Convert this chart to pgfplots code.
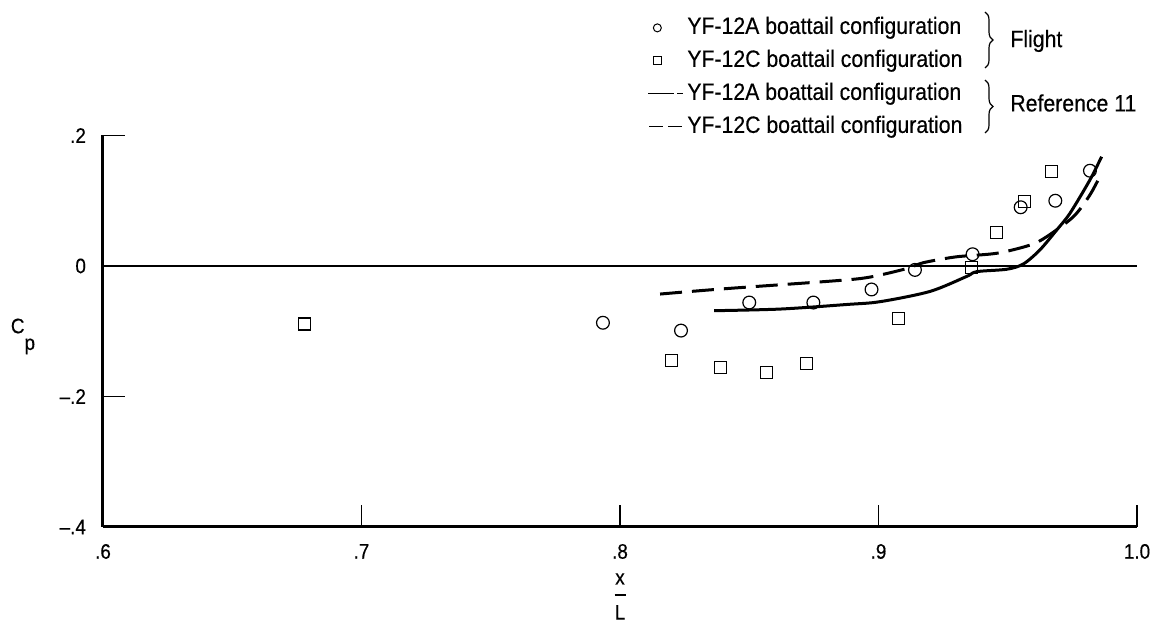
\documentclass[border=0pt]{standalone}
\usepackage{fontspec}
\setmainfont{Liberation Sans}[FakeStretch=0.9, FakeBold=0.4]
\usepackage{pgfplots}
\pgfplotsset{compat=1.18}
\usetikzlibrary{decorations.pathreplacing}
\newcommand{\tickfont}{\fontsize{10.5}{12.6}\selectfont}
\newcommand{\lgfont}{\fontsize{11.8}{14}\selectfont}
\begin{document}
\begin{tikzpicture}
\begin{axis}[
  at={(0pt,0pt)}, anchor=south west,
  scale only axis, width=517pt, height=195.75pt,
  xmin=0.6, xmax=1.0, ymin=-0.4, ymax=0.2,
  axis x line=bottom, axis y line=left,
  axis line style={-, line width=1.5pt},
  xtick={0.6,0.7,0.8,0.9,1.0}, xticklabels={.6,.7,.8,.9,1.0},
  ytick={-0.4,-0.2,0,0.2}, yticklabels={--.4,--.2,0,.2},
  xtick align=inside, ytick align=inside,
  major tick length=11pt,
  tick style={line width=0.6pt, black},
  tick label style={font=\tickfont},
  yticklabel style={xshift=-5pt},
  xticklabel style={yshift=-5pt},
  /pgf/number format/assume math mode=true,
  xlabel={\begin{tabular}{@{}c@{}}x\\[-6.9pt]\rule{5.5pt}{0.8pt}\\[-0.75pt]L\end{tabular}},
  every axis x label/.style={at={(axis description cs:0.5,0)}, anchor=center, yshift=-35pt, font=\tickfont},
  ylabel={C\raisebox{-8.3pt}{p}},
  every axis y label/.style={at={(axis description cs:-0.0774,0.4868)}, anchor=center, font=\tickfont},
  clip=false,
  legend cell align=left,
  legend style={draw=none, fill=none, at={(axis description cs:0.5251,1.304)}, anchor=north west,
    inner sep=0pt, row sep=5.5pt, column sep=0pt, font=\lgfont,
    nodes={inner sep=0pt, text height=8.5pt, text depth=2.5pt}},
]
% zero reference line
\addplot[black, line width=0.8pt, forget plot] coordinates {(0.6,0) (1.0,0)};
% Flight, YF-12A (circles)
\addplot[only marks, mark=o, mark size=3.2pt, mark options={line width=0.6pt, black, fill=white}, forget plot] coordinates {
(0.7934,-0.087) (0.8236,-0.099) (0.850,-0.056) (0.8748,-0.056) (0.8973,-0.036)
(0.9141,-0.006) (0.9364,0.018) (0.955,0.090) (0.9684,0.100) (0.9818,0.146)
};
% Reference 11, YF-12A (solid)
\addplot[black, line width=1.5pt, smooth, tension=0.5, forget plot] coordinates {
(0.8364,-0.0685) (0.862,-0.066) (0.8877,-0.059) (0.9006,-0.0547) (0.9199,-0.039)
(0.9341,-0.016) (0.938,-0.0087) (0.9496,-0.005) (0.956,0.003) (0.9624,0.0245)
(0.9689,0.055) (0.9741,0.081) (0.9818,0.132) (0.9863,0.1675)
};
% Reference 11, YF-12C (dashed)
\addplot[black, line width=1.5pt, dash pattern=on 11pt off 5pt, smooth, tension=0.5, forget plot] coordinates {
(0.8155,-0.043) (0.84,-0.035) (0.8838,-0.0225) (0.8967,-0.017) (0.9109,-0.004)
(0.9173,0.005) (0.930,0.014) (0.9457,0.0195) (0.9586,0.032) (0.9651,0.045)
(0.9754,0.0756) (0.9818,0.109) (0.9863,0.1425)
};
% Flight, YF-12C (squares)
\addplot[only marks, mark=square, mark size=3pt, mark options={line width=0.6pt, black, fill=white}, forget plot] coordinates {
(0.6778,-0.089) (0.820,-0.145) (0.839,-0.156) (0.8567,-0.163) (0.8722,-0.149)
(0.9077,-0.081) (0.936,-0.002) (0.9457,0.051) (0.9564,0.0985) (0.967,0.1445)
};
% legend
\addlegendimage{legend image code/.code={\path[draw=none] (0pt,0pt) -- (20.5pt,0pt); \draw[black,solid,line width=0.5pt] (5.5pt,0pt) circle (2pt);}}
\addlegendentry{YF-12A boattail configuration}
\addlegendimage{legend image code/.code={\path[draw=none] (0pt,0pt) -- (20.5pt,0pt); \draw[black,solid,line width=0.5pt] (3.5pt,-2pt) rectangle (7.5pt,2pt);}}
\addlegendentry{YF-12C boattail configuration}
\addlegendimage{legend image code/.code={\path[draw=none] (0pt,0pt) -- (20.5pt,0pt); \draw[black,solid,line width=0.6pt] (1pt,0pt) -- (14pt,0pt); \draw[black,solid,line width=0.6pt] (15.5pt,0pt) -- (18.5pt,0pt);}}
\addlegendentry{YF-12A boattail configuration}
\addlegendimage{legend image code/.code={\path[draw=none] (0pt,0pt) -- (20.5pt,0pt); \draw[black,solid,line width=0.6pt] (1.5pt,0pt) -- (8.5pt,0pt); \draw[black,solid,line width=0.6pt] (11pt,0pt) -- (18pt,0pt);}}
\addlegendentry{YF-12C boattail configuration}
\end{axis}
\draw[black, line width=0.6pt, decorate, decoration={brace, amplitude=4pt}] (441pt,257.5pt) -- (441pt,229.5pt);
\draw[black, line width=0.6pt, decorate, decoration={brace, amplitude=4pt}] (441pt,223.5pt) -- (441pt,197pt);
\node[anchor=west, inner sep=0pt, font=\lgfont] at (453.5pt,243pt) {Flight};
\node[anchor=west, inner sep=0pt, font=\lgfont] at (453.5pt,212pt) {Reference 11};
\pgfresetboundingbox
\path[use as bounding box] (-51.5pt,-48.5pt) rectangle (526.5pt,263.5pt);
\end{tikzpicture}
\end{document}
